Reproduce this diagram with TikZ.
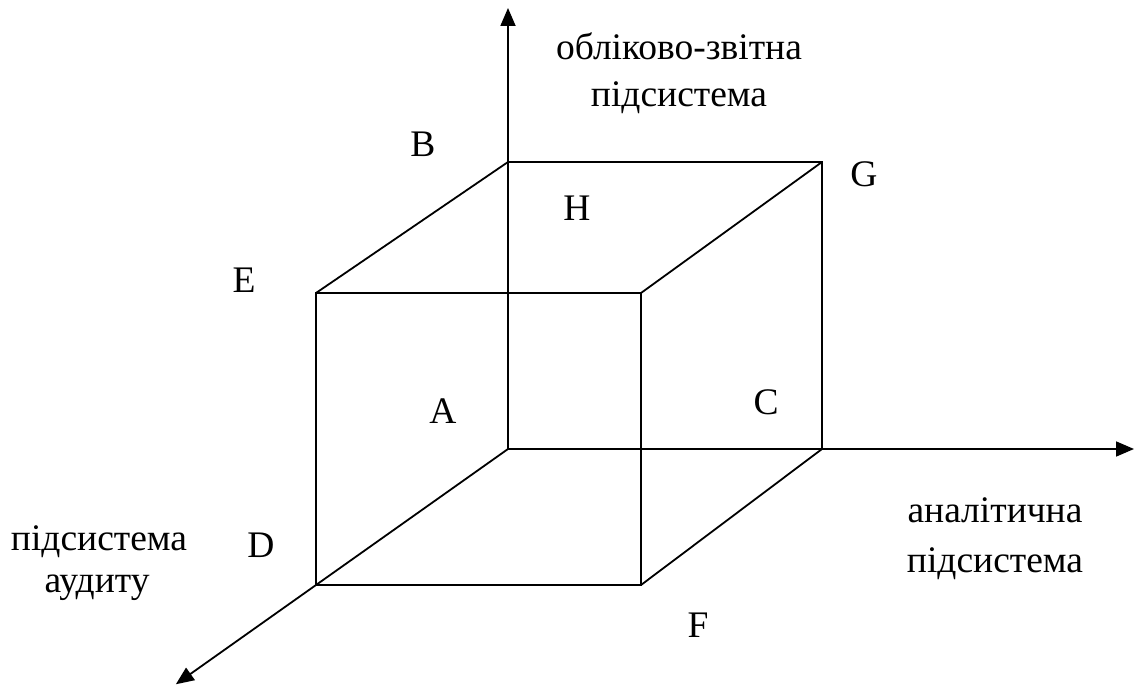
\documentclass[tikz,border=0pt]{standalone}
\usepackage{fontspec}
\setmainfont{Liberation Serif}
\usetikzlibrary{arrows.meta,calc}
\tikzset{
  edge/.style={line width=1.8pt,black},
  axis/.style={line width=1.8pt,black,-{Triangle[length=18pt,width=15pt]}},
  lbl/.style={anchor=base,inner sep=0pt,font=\fontsize{37.5}{44}\selectfont}
}
\begin{document}
\begin{tikzpicture}[x=1pt,y=-1pt]
\useasboundingbox (0,0) rectangle (1135,687);
% corners
\coordinate (O) at (508,449);
\coordinate (BTL) at (508,162);
\coordinate (BTR) at (822,162);
\coordinate (BBR) at (822,449);
\coordinate (FTL) at (316,293);
\coordinate (FTR) at (641,293);
\coordinate (FBR) at (641,585);
\coordinate (FBL) at (316,585);
\coordinate (ytip) at (508,8);
\coordinate (xtip) at (1134,449);
\coordinate (ztip) at ($(O)!1.73!(FBL)$);
% axes
\draw[axis] (O) -- (ytip);
\draw[axis] (O) -- (xtip);
\draw[axis] (O) -- (ztip);
% cube
\draw[edge] (BTL) -- (BTR) -- (BBR);
\draw[edge] (FTL) -- (FTR) -- (FBR) -- (FBL) -- cycle;
\draw[edge] (FTL) -- (BTL);
\draw[edge] (FTR) -- (BTR);
\draw[edge] (FBR) -- (BBR);
% letters
\node[lbl] (B) at (423,157) {B};
\node[lbl] (H) at (577,221) {H};
\node[lbl] (G) at (864,187) {G};
\node[lbl] (E) at (244,292) {E};
\node[lbl] (A) at (443,423) {A};
\node[lbl] (C) at (766,414) {C};
\node[lbl] (D) at (261,557) {D};
\node[lbl] (F) at (698,637) {F};
% axis captions
\node[lbl] (t1) at (679,60) {обліково-звітна};
\node[lbl] (t2) at (679,107) {підсистема};
\node[lbl] (r1) at (995,522) {аналітична};
\node[lbl] (r2) at (995,572) {підсистема};
\node[lbl] (l1) at (99,550) {підсистема};
\node[lbl] (l2) at (97,592) {аудиту};
\end{tikzpicture}
\end{document}
